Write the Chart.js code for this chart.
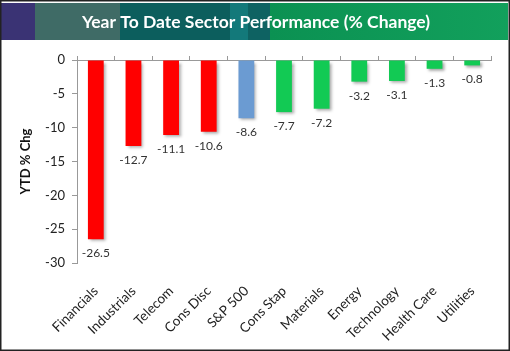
<!DOCTYPE html>
<html>
<head>
<meta charset="utf-8">
<script src="https://cdn.jsdelivr.net/npm/chart.js@4/dist/chart.umd.min.js"></script>
<style>
  html, body { margin: 0; padding: 0; background: #fff; }
</style>
</head>
<body>
<canvas id="sectorChart" width="510" height="351"></canvas>
<script>
// data
var sectors = ['Financials', 'Industrials', 'Telecom', 'Cons Disc', 'S&P 500', 'Cons Stap',
               'Materials', 'Energy', 'Technology', 'Health Care', 'Utilities'];
var ytdChange = [-26.5, -12.7, -11.1, -10.6, -8.6, -7.7, -7.2, -3.2, -3.1, -1.3, -0.8];
var chartTitle = 'Year To Date Sector Performance (% Change)';
var yTitle = 'YTD % Chg';

// colours
var barColors = ['#ff0000', '#ff0000', '#ff0000', '#ff0000', '#6b9bd2', '#12ca54',
                 '#12ca54', '#12ca54', '#12ca54', '#12ca54', '#12ca54'];

var FONT = 'Lato, "Open Sans", sans-serif';

// banner + frame + shadows + value labels
var decor = {
    id: 'decor',
    beforeDraw: function (chart) {
        var ctx = chart.ctx;
        ctx.save();
        var g = ctx.createLinearGradient(1, 0, 508, 0);
        var w = 507;
        function stop(px, c) { g.addColorStop(Math.min(1, Math.max(0, (px - 1) / w)), c); }
        stop(1, '#3a3374'); stop(35, '#3a3374');
        stop(35.5, '#3f6b66'); stop(120, '#3f6b66');
        stop(120.5, '#0c5e5d'); stop(230, '#0c5e5d');
        stop(230.5, '#13797a'); stop(248, '#13797a');
        stop(248.5, '#0e6262'); stop(270, '#0e6262');
        stop(270.5, '#0b9152'); stop(508, '#12a05c');
        ctx.fillStyle = g;
        ctx.fillRect(1, 3, 507, 37);
        ctx.fillStyle = '#ffffff';
        ctx.font = 'bold 17.5px ' + FONT;
        ctx.textAlign = 'center';
        ctx.textBaseline = 'middle';
        ctx.fillText(chartTitle, 256, 22);
        ctx.strokeStyle = '#222';
        ctx.lineWidth = 1.5;
        ctx.strokeRect(0.75, 0.75, 508.5, 349.5);
        ctx.restore();
    },
    beforeDatasetsDraw: function (chart) {
        var ctx = chart.ctx;
        ctx.save();
        ctx.shadowColor = 'rgba(0,0,0,0.35)';
        ctx.shadowBlur = 3;
        ctx.shadowOffsetX = 2;
        ctx.shadowOffsetY = 2;
    },
    afterDatasetsDraw: function (chart) {
        var ctx = chart.ctx;
        ctx.restore();
        ctx.save();
        ctx.fillStyle = '#333';
        ctx.font = '12px ' + FONT;
        ctx.textAlign = 'center';
        ctx.textBaseline = 'middle';
        var meta = chart.getDatasetMeta(0);
        meta.data.forEach(function (bar, i) {
            ctx.fillText(ytdChange[i].toFixed(1), bar.x, bar.y + 14);
        });
        ctx.restore();
    }
};

new Chart(document.getElementById('sectorChart'), {
    type: 'bar',
    data: {
        labels: sectors,
        datasets: [{
            data: ytdChange,
            backgroundColor: barColors,
            borderWidth: 0,
            categoryPercentage: 1,
            barPercentage: 0.42,
            xAxisID: 'x',
            yAxisID: 'y'
        }]
    },
    options: {
        responsive: false,
        animation: false,
        layout: { padding: { top: 56, left: 2, right: 19, bottom: 0 } },
        plugins: {
            legend: { display: false },
            tooltip: { enabled: false }
        },
        scales: {
            x: {
                position: 'bottom',
                grid: { display: false },
                border: { display: false },
                ticks: {
                    autoSkip: false,
                    maxRotation: 45,
                    minRotation: 45,
                    padding: 12,
                    color: '#222',
                    font: { family: FONT, size: 13.5 }
                },
                afterFit: function (s) { s.height = 88; }
            },
            x2: {
                type: 'category',
                position: 'top',
                labels: sectors,
                offset: true,
                grid: { display: true, drawOnChartArea: false, offset: true, tickLength: 4, color: '#999' },
                border: { display: true, color: '#999' },
                ticks: { display: false }
            },
            y: {
                min: -30,
                max: 0,
                ticks: {
                    stepSize: 5,
                    padding: 7,
                    color: '#222',
                    font: { family: FONT, size: 13 }
                },
                grid: { display: true, drawOnChartArea: false, tickLength: 5, color: '#999' },
                border: { display: true, color: '#999' },
                title: {
                    display: true,
                    text: yTitle,
                    color: '#111',
                    font: { family: FONT, size: 13, weight: 'bold' },
                    padding: { top: 16, bottom: 0 }
                },
                afterFit: function (s) { s.width = 75; }
            }
        }
    },
    plugins: [decor]
});
</script>
</body>
</html>
